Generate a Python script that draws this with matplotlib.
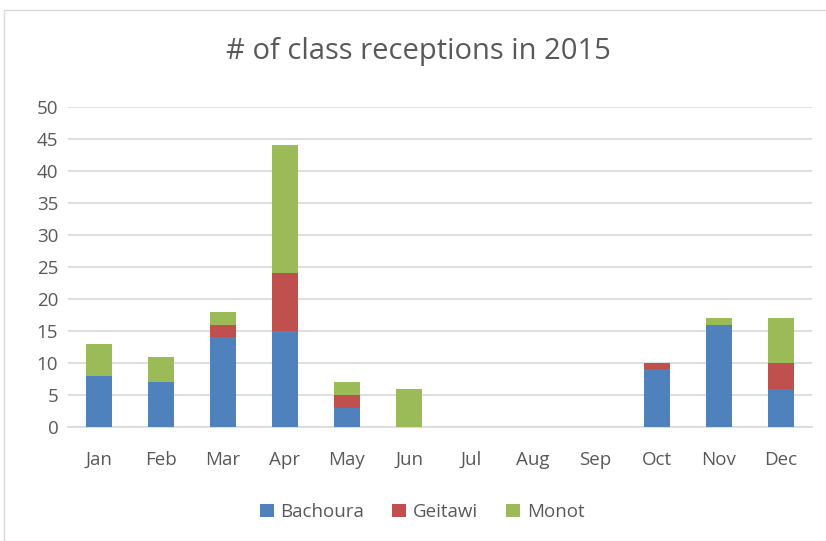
import matplotlib

matplotlib.use("Agg")
import matplotlib.pyplot as plt
from matplotlib.patches import Rectangle
import numpy as np

months = ["Jan", "Feb", "Mar", "Apr", "May", "Jun", "Jul", "Aug", "Sep", "Oct", "Nov", "Dec"]
bachoura = [8, 7, 14, 15, 3, 0, 0, 0, 0, 9, 16, 6]
geitawi = [0, 0, 2, 9, 2, 0, 0, 0, 0, 1, 0, 4]
monot = [5, 4, 2, 20, 2, 6, 0, 0, 0, 0, 1, 7]

colors = {"Bachoura": "#4f81bd", "Geitawi": "#c0504d", "Monot": "#9bbb59"}
text_color = "#595959"
grid_color = "#d9d9d9"

plt.rcParams["font.family"] = ["Open Sans", "DejaVu Sans"]

fig = plt.figure(figsize=(8.26, 5.41), dpi=100)
fig.patches.append(
    Rectangle((4 / 826, 0), 1, 1 - 10 / 541, transform=fig.transFigure,
              fill=False, edgecolor=grid_color, linewidth=1.0)
)
ax = fig.add_axes([68 / 826, 1 - 427 / 541, (812 - 68) / 826, 320 / 541])

x = np.arange(len(months))
width = 0.42
b = np.array(bachoura)
g = np.array(geitawi)
m = np.array(monot)
ax.bar(x, b, width, color=colors["Bachoura"], label="Bachoura", zorder=3)
ax.bar(x, g, width, bottom=b, color=colors["Geitawi"], label="Geitawi", zorder=3)
ax.bar(x, m, width, bottom=b + g, color=colors["Monot"], label="Monot", zorder=3)

ax.set_xlim(-0.5, len(months) - 0.5)
ax.set_ylim(0, 50)
ax.set_yticks(range(0, 51, 5))
ax.set_xticks(x)
ax.set_xticklabels(months)
ax.yaxis.grid(True, color=grid_color, linewidth=1.2, zorder=0)
ax.set_axisbelow(True)
for side in ["top", "right", "left"]:
    ax.spines[side].set_visible(False)
ax.spines["bottom"].set_color(grid_color)
ax.spines["bottom"].set_linewidth(1.2)
ax.tick_params(axis="both", length=0, labelsize=13.5, colors=text_color)
ax.tick_params(axis="x", pad=17)
ax.tick_params(axis="y", pad=7)

fig.text(418 / 826, 1 - 52 / 541, "# of class receptions in 2015", ha="center", va="center",
         fontsize=21, color=text_color)

fig.legend(loc="center", bbox_to_anchor=(422 / 826, 1 - 512 / 541), ncol=3, frameon=False,
           fontsize=13.5, labelcolor=text_color, handlelength=0.75, handleheight=0.75,
           handletextpad=0.35, columnspacing=1.5)

fig.savefig("out.png", dpi=100)
